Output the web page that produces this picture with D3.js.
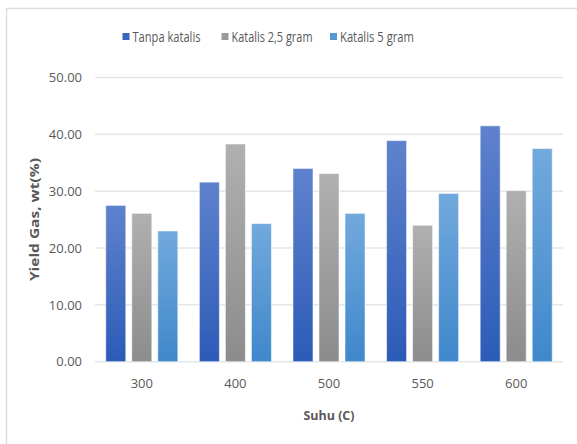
<!DOCTYPE html>
<html>
<head>
<meta charset="utf-8">
<script src="https://cdn.jsdelivr.net/npm/d3@7"></script>
<style>
  html, body { margin: 0; padding: 0; background: #fff; }
  svg { display: block; font-family: "Open Sans", sans-serif; }
</style>
</head>
<body>
<svg id="chart" width="577" height="444"></svg>
<script>
// Gas yield per pyrolysis temperature, three catalyst loadings
const categories = ["300", "400", "500", "550", "600"];
const seriesNames = ["Tanpa katalis", "Katalis 2,5 gram", "Katalis 5 gram"];
const tanpaKatalis = [27.5, 31.6, 34.0, 38.9, 41.5];
const katalis25 = [26.1, 38.3, 33.1, 24.0, 30.1];
const katalis5 = [23.0, 24.3, 26.1, 29.6, 37.5];
const yTicks = [0, 10, 20, 30, 40, 50];

const seriesValues = [tanpaKatalis, katalis25, katalis5];
const gradients = [
  ["#5f82cd", "#2c5bb7"],
  ["#b0b0b0", "#8c8c8c"],
  ["#72a9dd", "#3f88cb"]
];
const legendColors = ["#3a66c0", "#9a9a9a", "#5399d5"];
const legendWidths = [68, 81, 74];

const svg = d3.select("#chart");
const margin = { left: 95, right: 14, top: 77.5, bottom: 82.3 };
const W = 577, H = 444;

// chart frame (left and top edges visible)
svg.append("path")
  .attr("d", `M6.5,${H} V8.5 H${W}`)
  .attr("fill", "none").attr("stroke", "#dadde2").attr("stroke-width", 1.5);

const x = d3.scaleBand().domain(categories)
  .range([margin.left, W - margin.right]).paddingInner(0.23).paddingOuter(0.115);
const xs = d3.scaleBand().domain(d3.range(3)).range([0, x.bandwidth()]).paddingInner(0.23);
const y = d3.scaleLinear().domain([0, 50]).range([H - margin.bottom, margin.top]);

const defs = svg.append("defs");
gradients.forEach((g, i) => {
  const lg = defs.append("linearGradient").attr("id", "g" + i)
    .attr("x1", 0).attr("y1", 0).attr("x2", 0).attr("y2", 1);
  lg.append("stop").attr("offset", "0%").attr("stop-color", g[0]);
  lg.append("stop").attr("offset", "100%").attr("stop-color", g[1]);
});

// gridlines
svg.append("g").selectAll("line").data(yTicks).join("line")
  .attr("x1", margin.left).attr("x2", W - margin.right)
  .attr("y1", d => y(d)).attr("y2", d => y(d))
  .attr("stroke", "#e3e6ea").attr("stroke-width", 1.5);

// y axis labels
const yAxis = d3.axisLeft(y).tickValues(yTicks).tickFormat(d3.format(".2f")).tickSize(0).tickPadding(13);
const gy = svg.append("g").attr("transform", `translate(${margin.left},0)`).call(yAxis);
gy.select(".domain").remove();
gy.selectAll("text").attr("fill", "#595959").style("font-size", "13px")
  .style("font-family", "'Open Sans', sans-serif");

// x axis labels
const xAxis = d3.axisBottom(x).tickSize(0).tickPadding(17);
const gx = svg.append("g").attr("transform", `translate(0,${y(0)})`).call(xAxis);
gx.select(".domain").remove();
gx.selectAll("text").attr("fill", "#595959").style("font-size", "13px")
  .style("font-family", "'Open Sans', sans-serif");

// bars
seriesValues.forEach((vals, si) => {
  svg.append("g").selectAll("rect").data(vals).join("rect")
    .attr("x", (d, i) => x(categories[i]) + xs(si))
    .attr("width", xs.bandwidth())
    .attr("y", d => y(d))
    .attr("height", d => y(0) - y(d))
    .attr("fill", `url(#g${si})`)
    .attr("stroke", "rgba(255,255,255,0.55)").attr("stroke-width", 1);
});

// axis titles
svg.append("text")
  .attr("x", (margin.left + W - margin.right) / 2 - 25.5).attr("y", 420)
  .attr("fill", "#595959")
  .attr("textLength", 51).attr("lengthAdjust", "spacingAndGlyphs")
  .style("font-size", "13px").style("font-weight", "bold")
  .text("Suhu (C)");
svg.append("text")
  .attr("transform", `translate(39,${(y(0) + y(50)) / 2 + 61.5}) rotate(-90)`)
  .attr("fill", "#595959")
  .attr("textLength", 123).attr("lengthAdjust", "spacingAndGlyphs")
  .style("font-size", "13px").style("font-weight", "bold")
  .text("Yield Gas, wt(%)");

// legend
const legendX = [122.5, 221.5, 330];
const lg = svg.append("g");
seriesNames.forEach((name, i) => {
  lg.append("rect").attr("x", legendX[i]).attr("y", 33).attr("width", 7).attr("height", 7)
    .attr("fill", legendColors[i]);
  lg.append("text").attr("x", legendX[i] + 10).attr("y", 42)
    .attr("fill", "#595959")
    .attr("textLength", legendWidths[i]).attr("lengthAdjust", "spacingAndGlyphs")
    .style("font-size", "14px").text(name);
});
</script>
</body>
</html>
